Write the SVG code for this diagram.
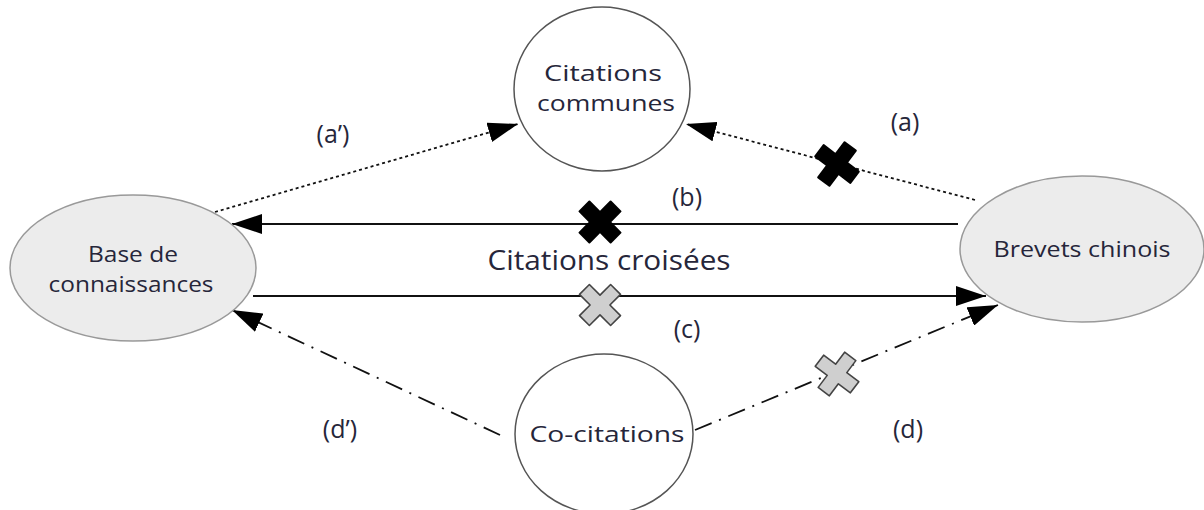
<svg xmlns="http://www.w3.org/2000/svg" width="1204" height="510" viewBox="0 0 1204 510">
<style>
text{font-family:"Open Sans","Noto Sans","DejaVu Sans",sans-serif;fill:#26263a;text-anchor:middle}
.n{font-size:21px}
.lbl{font-size:25px}
.big{font-size:27px}
.gray{fill:#ececec;stroke:#999;stroke-width:1.5}
.white{fill:#fff;stroke:#555;stroke-width:1.5}
.ln{fill:none;stroke:#111;stroke-width:1.8}
.dot{stroke-dasharray:3 3}
.dd{stroke-dasharray:18 8 2 8}
.xb{fill:#000;stroke:#000;stroke-width:2;stroke-linejoin:round}
.xg{fill:#cfcfcf;stroke:#444;stroke-width:1.6;stroke-linejoin:round}
</style>
<defs>
<marker id="ar" viewBox="0 0 30 20" refX="30" refY="10" markerWidth="30" markerHeight="20" markerUnits="userSpaceOnUse" orient="auto">
<path d="M0,0 L30,10 L0,20 Z" fill="#000"/>
</marker>
<path id="cross" d="M-7,-22 H7 V-7 H22 V7 H7 V22 H-7 V7 H-22 V-7 H-7 Z" transform="rotate(45)"/>
</defs>
<g id="connectors">
<line class="ln dot" x1="215" y1="212" x2="518" y2="124" marker-end="url(#ar)"/>
<line class="ln dot" x1="975" y1="200" x2="686" y2="124" marker-end="url(#ar)"/>
<line class="ln" x1="958" y1="224" x2="232" y2="224" marker-end="url(#ar)"/>
<line class="ln" x1="253" y1="296" x2="986" y2="296" marker-end="url(#ar)"/>
<line class="ln dd" x1="500" y1="435" x2="232" y2="310" marker-end="url(#ar)"/>
<line class="ln dd" x1="695" y1="430" x2="998" y2="305" marker-end="url(#ar)"/>
<use href="#cross" class="xb" transform="translate(837,164) rotate(-8)"/>
<use href="#cross" class="xb" transform="translate(600,222)"/>
<use href="#cross" class="xg" transform="translate(600,305)"/>
<use href="#cross" class="xg" transform="translate(837,374) rotate(-8)"/>
<text class="lbl" x="333" y="143">(a’)</text>
<text class="lbl" x="905" y="131">(a)</text>
<text class="lbl" x="687" y="206">(b)</text>
<text class="lbl" x="687" y="338">(c)</text>
<text class="lbl" x="340" y="438">(d’)</text>
<text class="lbl" x="908" y="438">(d)</text>
<text class="big" x="609" y="270" textLength="243" lengthAdjust="spacingAndGlyphs">Citations croisées</text>
</g>
<g id="citations-communes">
<ellipse class="white" cx="602" cy="89" rx="88" ry="82"/>
<text class="n" x="603" y="81" textLength="118" lengthAdjust="spacingAndGlyphs">Citations</text>
<text class="n" x="606" y="111" textLength="138" lengthAdjust="spacingAndGlyphs">communes</text>
</g>
<g id="base-de-connaissances">
<ellipse class="gray" cx="133" cy="268" rx="123" ry="73"/>
<text class="n" x="133" y="262" textLength="90" lengthAdjust="spacingAndGlyphs">Base de</text>
<text class="n" x="131" y="292" textLength="165" lengthAdjust="spacingAndGlyphs">connaissances</text>
</g>
<g id="brevets-chinois">
<ellipse class="gray" cx="1082" cy="249" rx="122" ry="73"/>
<text class="n" x="1082" y="257" textLength="177" lengthAdjust="spacingAndGlyphs">Brevets chinois</text>
</g>
<g id="co-citations">
<ellipse class="white" cx="604" cy="434" rx="89" ry="80"/>
<text class="n" x="607" y="442" textLength="155" lengthAdjust="spacingAndGlyphs">Co-citations</text>
</g>
</svg>
